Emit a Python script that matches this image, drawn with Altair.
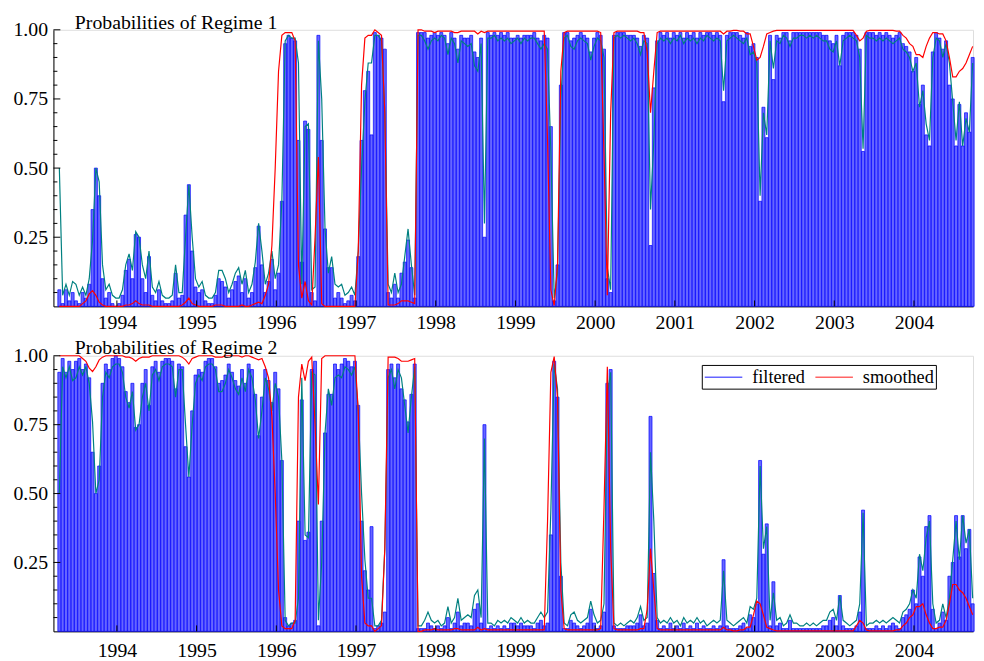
import altair as alt
import numpy as np
import pandas as pd

# ---------------- data (regime 1; regime 2 = 1 - regime 1) ----------------
START = 1993.278          # first observation (decimal year)
STEP = 1 / 24             # semi-monthly observations
years = [1994, 1995, 1996, 1997, 1998, 1999, 2000, 2001, 2002, 2003, 2004]
y_labels = [0.25, 0.5, 0.75, 1.0]
minor_ticks = [0.05, 0.10, 0.15, 0.20, 0.30, 0.35, 0.40, 0.45,
               0.55, 0.60, 0.65, 0.70, 0.80, 0.85, 0.90, 0.95]
legend_names = ["filtered", "smoothed"]
titles = ["Probabilities of Regime 1", "Probabilities of Regime 2"]

filtered_r1 = [
    0.06, 0.01, 0.06, 0.02, 0.05, 0.02, 0.01, 0.05, 0.03, 0.08, 0.35, 0.50,
    0.40, 0.10, 0.03, 0.05, 0.01, 0.00, 0.01, 0.04, 0.13, 0.17, 0.10, 0.26,
    0.25, 0.10, 0.05, 0.18, 0.04, 0.02, 0.06, 0.02, 0.01, 0.01, 0.02, 0.12,
    0.03, 0.04, 0.33, 0.44, 0.20, 0.07, 0.05, 0.06, 0.02, 0.01, 0.01, 0.04,
    0.10, 0.09, 0.07, 0.03, 0.06, 0.09, 0.11, 0.05, 0.10, 0.03, 0.05, 0.14,
    0.29, 0.15, 0.05, 0.09, 0.17, 0.06, 0.12, 0.38, 0.95, 0.98, 0.97, 0.96,
    0.60, 0.16, 0.67, 0.64, 0.05, 0.02, 0.98, 0.60, 0.28, 0.14, 0.14, 0.03,
    0.05, 0.03, 0.01, 0.02, 0.04, 0.02, 0.18, 0.60, 0.78, 0.85, 0.62, 0.99,
    0.98, 0.97, 0.93, 0.05, 0.03, 0.08, 0.03, 0.12, 0.16, 0.24, 0.14, 0.03,
    0.99, 0.99, 0.99, 0.97, 0.98, 0.99, 0.98, 0.99, 0.98, 0.95, 0.99, 0.97,
    0.93, 0.98, 0.97, 0.97, 0.98, 0.92, 0.90, 0.97, 0.25, 0.99, 0.98, 0.99,
    0.98, 0.99, 0.98, 0.99, 0.97, 0.97, 0.98, 0.97, 0.98, 0.98, 0.98, 0.99,
    0.97, 0.96, 0.98, 0.97, 0.65, 0.02, 0.15, 0.80, 0.99, 0.99, 0.96, 0.97,
    0.98, 0.99, 0.98, 0.97, 0.92, 0.97, 0.99, 0.98, 0.93, 0.10, 0.05, 0.98,
    0.99, 0.99, 0.99, 0.98, 0.98, 0.98, 0.97, 0.94, 0.98, 0.97, 0.22, 0.79,
    0.96, 0.99, 0.98, 0.99, 0.97, 0.99, 0.98, 0.99, 0.97, 0.99, 0.98, 0.99,
    0.97, 0.99, 0.98, 0.99, 0.99, 0.98, 0.99, 0.98, 0.74, 0.98, 0.99, 0.99,
    0.99, 0.98, 0.97, 0.99, 0.94, 0.95, 0.90, 0.38, 0.72, 0.61, 0.98, 0.82,
    0.98, 0.97, 0.99, 0.99, 0.96, 0.99, 0.99, 0.99, 0.99, 0.99, 0.99, 0.99,
    0.99, 0.99, 0.98, 0.98, 0.96, 0.95, 0.98, 0.87, 0.98, 0.99, 0.99, 0.99,
    0.98, 0.93, 0.56, 0.99, 0.99, 0.99, 0.98, 0.99, 0.98, 0.99, 0.98, 0.97,
    0.98, 0.99, 0.95, 0.94, 0.92, 0.85, 0.90, 0.73, 0.80, 0.62, 0.58, 0.92,
    0.99, 0.97, 0.93, 0.96, 0.80, 0.75, 0.58, 0.73, 0.58, 0.70, 0.63, 0.90,
]

predicted_r1 = [
    0.50, 0.04, 0.08, 0.04, 0.09, 0.08, 0.04, 0.07, 0.04, 0.10, 0.24, 0.50,
    0.45, 0.15, 0.06, 0.08, 0.04, 0.03, 0.03, 0.06, 0.15, 0.19, 0.13, 0.27,
    0.25, 0.15, 0.10, 0.20, 0.07, 0.05, 0.09, 0.04, 0.03, 0.03, 0.04, 0.15,
    0.05, 0.05, 0.25, 0.44, 0.25, 0.10, 0.07, 0.09, 0.04, 0.03, 0.03, 0.05,
    0.13, 0.13, 0.10, 0.05, 0.08, 0.12, 0.14, 0.08, 0.13, 0.05, 0.08, 0.16,
    0.30, 0.20, 0.08, 0.12, 0.20, 0.10, 0.15, 0.38, 0.96, 0.98, 0.97, 0.97,
    0.88, 0.08, 0.65, 0.66, 0.06, 0.07, 0.96, 0.75, 0.28, 0.12, 0.18, 0.08,
    0.07, 0.08, 0.04, 0.05, 0.07, 0.04, 0.20, 0.50, 0.74, 0.88, 0.88, 0.98,
    0.98, 0.96, 0.70, 0.08, 0.05, 0.12, 0.05, 0.08, 0.18, 0.28, 0.15, 0.04,
    0.98, 0.98, 0.96, 0.93, 0.96, 0.97, 0.96, 0.98, 0.97, 0.91, 0.97, 0.95,
    0.88, 0.96, 0.95, 0.94, 0.95, 0.87, 0.85, 0.95, 0.30, 0.97, 0.97, 0.98,
    0.96, 0.97, 0.96, 0.97, 0.95, 0.96, 0.97, 0.95, 0.97, 0.96, 0.97, 0.97,
    0.95, 0.93, 0.95, 0.93, 0.56, 0.03, 0.12, 0.75, 0.97, 0.98, 0.94, 0.93,
    0.96, 0.97, 0.96, 0.95, 0.89, 0.94, 0.97, 0.96, 0.90, 0.14, 0.06, 0.97,
    0.98, 0.97, 0.98, 0.97, 0.96, 0.97, 0.95, 0.91, 0.96, 0.95, 0.35, 0.60,
    0.95, 0.97, 0.96, 0.97, 0.95, 0.97, 0.96, 0.98, 0.95, 0.97, 0.96, 0.97,
    0.95, 0.97, 0.96, 0.98, 0.97, 0.96, 0.97, 0.96, 0.78, 0.96, 0.97, 0.98,
    0.97, 0.96, 0.95, 0.97, 0.91, 0.92, 0.88, 0.40, 0.70, 0.62, 0.96, 0.86,
    0.96, 0.95, 0.98, 0.97, 0.94, 0.97, 0.97, 0.98, 0.98, 0.97, 0.98, 0.97,
    0.98, 0.97, 0.96, 0.96, 0.93, 0.92, 0.96, 0.87, 0.96, 0.97, 0.98, 0.97,
    0.96, 0.90, 0.57, 0.98, 0.97, 0.97, 0.96, 0.97, 0.96, 0.97, 0.96, 0.95,
    0.96, 0.97, 0.93, 0.92, 0.90, 0.85, 0.88, 0.72, 0.78, 0.66, 0.60, 0.90,
    0.97, 0.96, 0.90, 0.95, 0.88, 0.74, 0.60, 0.74, 0.58, 0.68, 0.63, 0.88,
]

smoothed_r1 = [
    0.00, 0.00, 0.00, 0.00, 0.00, 0.00, 0.00, 0.01, 0.02, 0.045, 0.057, 0.04,
    0.015, 0.005, 0.00, 0.00, 0.00, 0.00, 0.00, 0.00, 0.005, 0.005, 0.01, 0.02,
    0.01, 0.005, 0.005, 0.005, 0.00, 0.00, 0.00, 0.00, 0.00, 0.00, 0.00, 0.00,
    0.00, 0.005, 0.015, 0.03, 0.01, 0.005, 0.00, 0.00, 0.00, 0.00, 0.00, 0.005,
    0.005, 0.005, 0.00, 0.00, 0.00, 0.00, 0.00, 0.005, 0.00, 0.00, 0.005, 0.01,
    0.015, 0.01, 0.04, 0.08, 0.22, 0.50, 0.85, 0.98, 0.99, 0.99, 0.99, 0.96,
    0.15, 0.03, 0.09, 0.02, 0.005, 0.25, 0.54, 0.01, 0.00, 0.00, 0.00, 0.00,
    0.00, 0.00, 0.00, 0.00, 0.00, 0.00, 0.20, 0.80, 0.97, 0.98, 0.98, 1.00,
    0.99, 0.98, 0.70, 0.005, 0.005, 0.005, 0.01, 0.02, 0.02, 0.02, 0.015, 0.01,
    1.00, 1.00, 0.995, 0.995, 0.995, 0.99, 0.995, 0.995, 0.995, 0.995, 0.995, 0.99,
    0.99, 0.995, 0.995, 0.995, 0.995, 0.995, 0.985, 0.995, 0.99, 0.995, 0.995, 0.995,
    0.995, 0.995, 0.995, 0.995, 0.995, 0.995, 0.995, 0.995, 0.995, 0.995, 0.995, 0.995,
    0.995, 0.995, 0.995, 0.60, 0.06, 0.003, 0.15, 0.85, 0.99, 0.995, 0.995, 0.995,
    0.995, 0.995, 0.995, 0.995, 0.995, 0.995, 0.995, 0.99, 0.55, 0.04, 0.70, 0.99,
    0.995, 0.995, 0.995, 0.995, 0.995, 0.995, 0.995, 0.99, 0.99, 0.92, 0.70, 0.85,
    0.99, 0.995, 0.995, 0.995, 0.995, 0.995, 0.995, 0.995, 0.995, 0.995, 0.995, 0.995,
    0.995, 0.995, 0.995, 0.995, 0.995, 0.995, 0.995, 0.995, 0.985, 0.995, 0.995, 0.998,
    0.998, 0.995, 0.995, 0.985, 0.985, 0.94, 0.89, 0.90, 0.94, 0.985, 0.99, 0.995,
    0.998, 0.998, 0.998, 0.998, 0.998, 0.998, 0.998, 0.998, 0.998, 0.998, 0.998, 0.998,
    0.998, 0.998, 0.998, 0.998, 0.998, 0.998, 0.998, 0.998, 0.998, 0.998, 0.998, 0.998,
    0.98, 0.96, 0.97, 0.995, 0.998, 0.998, 0.998, 0.998, 0.998, 0.998, 0.998, 0.998,
    0.995, 0.995, 0.98, 0.97, 0.95, 0.94, 0.91, 0.91, 0.90, 0.94, 0.97, 0.99,
    0.99, 0.985, 0.985, 0.96, 0.90, 0.83, 0.83, 0.85, 0.86, 0.88, 0.91, 0.94,
]

# ---------------- styling ----------------
FONT = "Liberation Serif"
W = 931
HEIGHTS = [280, 279]
XDOM = [1993.204, 2004.741]
BLUE, RED, TEAL = "#0000ff", "#ff0000", "#008080"

n = len(filtered_r1)
t = START + STEP * np.arange(n)


def frame(regime):
    f = np.array(filtered_r1, dtype=float)
    p = np.array(predicted_r1, dtype=float)
    s = np.array(smoothed_r1, dtype=float)
    if regime == 2:
        f, p, s = 1 - f, 1 - p, 1 - s
    return pd.DataFrame({
        "t": t, "t0": t - 0.45 * STEP, "t1": t + 0.45 * STEP,
        "filtered": f, "predicted": p, "smoothed": s,
        "series": "smoothed",
    })


def xenc(field, pad):
    return alt.X(field, type="quantitative",
                 scale=alt.Scale(domain=XDOM, nice=False, zero=False),
                 axis=alt.Axis(values=years, format="d", title=None, grid=False,
                               ticks=False, labelFont=FONT, labelFontSize=20,
                               labelColor="black", labelPadding=pad,
                               domainColor="black", domainWidth=1,
                               labelFlush=False, labelOverlap=False))


def yenc(field):
    return alt.Y(field, type="quantitative",
                 scale=alt.Scale(domain=[0, 1], nice=False, zero=True),
                 axis=alt.Axis(values=y_labels, format=".2f", title=None, grid=False,
                               ticks=False, labelFont=FONT, labelFontSize=20,
                               labelColor="black", labelPadding=6,
                               domainColor="black", domainWidth=1))


def panel(regime, h, pad, with_legend):
    df = frame(regime)
    bars = alt.Chart(df).mark_bar(
        fill=BLUE, fillOpacity=0.6, stroke=BLUE, strokeWidth=0.7
    ).encode(x=xenc("t0", pad), x2="t1", y=yenc("filtered"), y2=alt.datum(0))
    teal = alt.Chart(df).mark_line(color=TEAL, strokeWidth=1.2).encode(
        x=xenc("t", pad), y=yenc("predicted"))
    if with_legend:
        red = alt.Chart(df).mark_line(strokeWidth=1.2).encode(
            x=xenc("t", pad), y=yenc("smoothed"),
            color=alt.Color("series:N",
                            scale=alt.Scale(domain=legend_names, range=[BLUE, RED]),
                            legend=alt.Legend(
                                orient="none", legendX=656.4, legendY=9.3,
                                direction="horizontal", title=None,
                                symbolType="M-1,0H3", symbolSize=361,
                                symbolStrokeWidth=1.5, symbolOpacity=0.6,
                                labelFont=FONT, labelFontSize=18.5,
                                labelColor="black", labelOffset=28,
                                columnPadding=7, padding=2,
                                strokeColor="black", fillColor="white")))
    else:
        red = alt.Chart(df).mark_line(color=RED, strokeWidth=1.2).encode(
            x=xenc("t", pad), y=yenc("smoothed"))
    major = alt.Chart(pd.DataFrame({"v": y_labels})).mark_rule(
        color="black", strokeWidth=1).encode(
        y=yenc("v"), x=alt.value(0), x2=alt.value(7))
    minor = alt.Chart(pd.DataFrame({"v": minor_ticks})).mark_rule(
        color="black", strokeWidth=1).encode(
        y=yenc("v"), x=alt.value(0), x2=alt.value(4))
    yt = alt.Chart(pd.DataFrame({"year": years})).mark_rule(
        color="black", strokeWidth=1).encode(
        x=xenc("year", pad), y=alt.value(h), y2=alt.value(h - 6))
    title = alt.Chart(pd.DataFrame({"title": [titles[regime - 1]]})).mark_text(
        align="left", baseline="top", font=FONT, fontSize=20,
        color="black").encode(text="title:N", x=alt.value(21.7), y=alt.value(-17.3))
    return alt.layer(bars, teal, red, major, minor, yt, title).properties(
        width=W, height=h)


top = panel(1, HEIGHTS[0], 6, False)
bottom = panel(2, HEIGHTS[1], 9, True)

chart = alt.vconcat(top, bottom, spacing=5).resolve_scale(
    color="independent").resolve_legend(color="independent").properties(
    padding={"left": 4, "top": 0, "right": 0, "bottom": 0}
).configure_view(stroke=None).configure(background="white")

chart.save("out.html", embed_options={"renderer": "svg", "actions": False})
